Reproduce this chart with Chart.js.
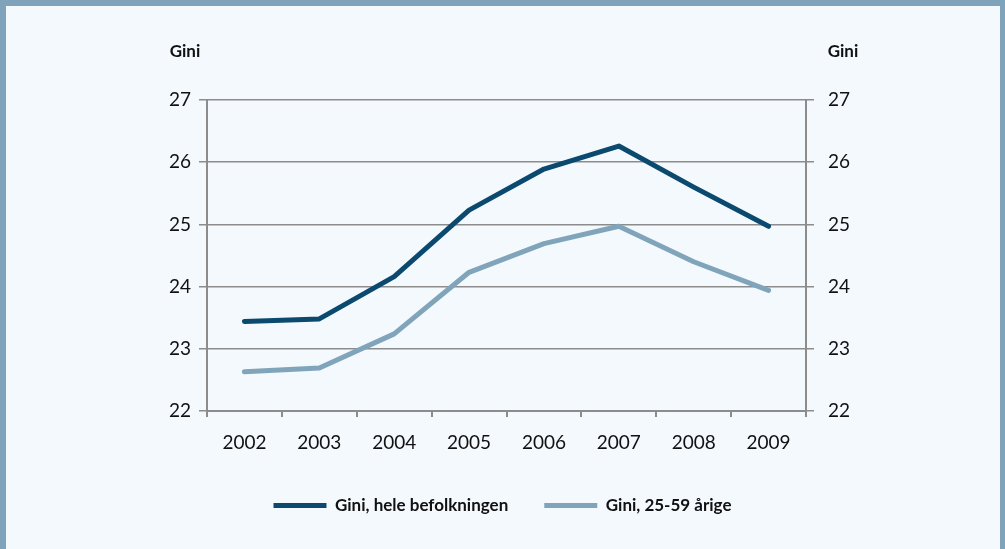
<!DOCTYPE html>
<html><head><meta charset="utf-8">
<script src="https://cdn.jsdelivr.net/npm/chart.js@4"></script>
<style>
html,body{margin:0;padding:0;background:#f4f9fd;}
#wrap{position:relative;width:1005px;height:549px;background:#f4f9fd;overflow:hidden;}
canvas{position:absolute;left:0;top:0;}
.b{position:absolute;background:#7fa3ba;}
</style></head><body>
<div id="wrap">
<canvas id="c" width="1005" height="549"></canvas>
<div class="b" style="left:0;top:0;width:1005px;height:6px"></div>
<div class="b" style="left:0;top:0;width:6px;height:549px"></div>
<div class="b" style="right:0;top:0;width:5px;height:549px"></div>
</div>
<script>
const years = ['2002','2003','2004','2005','2006','2007','2008','2009'];
const giniAll = [23.44, 23.48, 24.16, 25.23, 25.89, 26.26, 25.60, 24.97];
const gini2559 = [22.63, 22.69, 23.24, 24.23, 24.69, 24.97, 24.40, 23.94];
const seriesNames = ['Gini, hele befolkningen', 'Gini, 25-59 årige'];
const axisTitle = 'Gini';

const FONT = 'Lato, "Open Sans", sans-serif';
const txt = '#111';
const gridC = '#8c8c8c';

const axisTitles = {
  id: 'axisTitles',
  afterDraw(chart) {
    const ctx = chart.ctx;
    ctx.save();
    ctx.font = 'bold 17px ' + FONT;
    ctx.fillStyle = txt;
    ctx.textAlign = 'center';
    ctx.textBaseline = 'middle';
    ctx.fillText(axisTitle, 185, 52);
    ctx.fillText(axisTitle, 843, 52);
    ctx.restore();
  }
};

new Chart(document.getElementById('c'), {
  type: 'line',
  data: {
    labels: years,
    datasets: [
      {label: seriesNames[0], data: giniAll, borderColor: '#0b4a6e', backgroundColor: '#0b4a6e', borderWidth: 5, pointRadius: 0, tension: 0, borderCapStyle: 'round', borderJoinStyle: 'round', yAxisID: 'y'},
      {label: seriesNames[1], data: gini2559, borderColor: '#80a5bb', backgroundColor: '#80a5bb', borderWidth: 5, pointRadius: 0, tension: 0, borderCapStyle: 'round', borderJoinStyle: 'round', yAxisID: 'y'}
    ]
  },
  options: {
    responsive: false,
    animation: false,
    layout: {padding: {top: 100, left: 0, right: 0, bottom: 25}},
    plugins: {
      legend: {
        position: 'bottom',
        labels: {
          font: {family: FONT, size: 17, weight: 'bold'},
          color: txt,
          boxWidth: 53,
          boxHeight: 5,
          padding: 36,
          generateLabels(chart) {
            return chart.data.datasets.map((d, i) => ({
              text: d.label, fillStyle: d.borderColor, strokeStyle: d.borderColor,
              lineWidth: 0, datasetIndex: i, fontColor: txt
            }));
          }
        }
      },
      tooltip: {enabled: false}
    },
    scales: {
      x: {
        offset: true,
        grid: {offset: true, drawOnChartArea: false, drawTicks: true, tickLength: 6, color: gridC, lineWidth: 2},
        border: {display: true, color: gridC, width: 2},
        ticks: {font: {family: FONT, size: 19}, color: txt, padding: 14},
        afterFit(s) { s.height = 50; }
      },
      y: {
        position: 'left', min: 22, max: 27,
        ticks: {stepSize: 1, font: {family: FONT, size: 19}, color: txt, padding: 8},
        grid: {color: gridC, lineWidth: 1.5, tickLength: 8, drawTicks: true},
        border: {display: true, color: gridC, width: 2},
        afterFit(s) { s.width = 207; }
      },
      y2: {
        position: 'right', min: 22, max: 27,
        ticks: {stepSize: 1, font: {family: FONT, size: 19}, color: txt, padding: 14},
        grid: {drawOnChartArea: false, color: gridC, lineWidth: 1.5, tickLength: 8, drawTicks: true},
        border: {display: true, color: gridC, width: 2},
        afterFit(s) { s.width = 199; }
      }
    }
  },
  plugins: [axisTitles]
});
</script>
</body></html>
